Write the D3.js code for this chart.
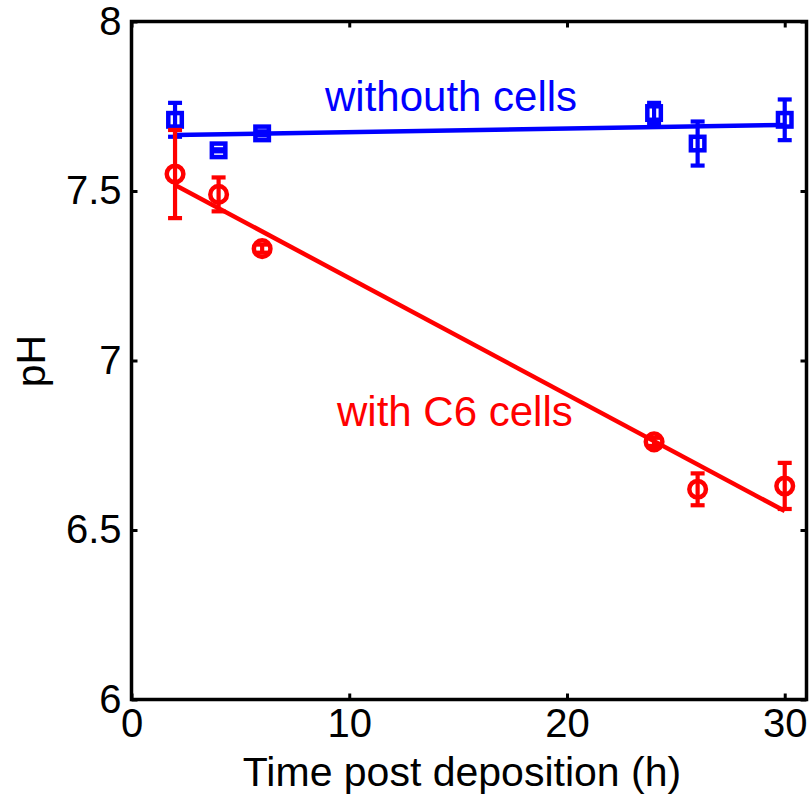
<!DOCTYPE html>
<html>
<head>
<meta charset="utf-8">
<script src="https://cdn.jsdelivr.net/npm/d3@7"></script>
<style>
  html, body { margin: 0; padding: 0; background: #fff; }
  svg text { font-family: "Liberation Sans", Arial, Helvetica, sans-serif; }
</style>
</head>
<body>
<svg id="chart" width="812" height="799"></svg>
<script>
// Sampling times (hours after deposition)
const hours = [2, 4, 6, 24, 26, 30];

// pH without cells: means and error half-widths
const phNoCells = [7.71, 7.62, 7.67, 7.73, 7.64, 7.71];
const errNoCells = [0.05, 0.003, 0.006, 0.03, 0.065, 0.06];

// pH with C6 cells: means and error half-widths
const phC6 = [7.55, 7.49, 7.33, 6.76, 6.62, 6.63];
const errC6 = [0.13, 0.05, 0.012, 0.012, 0.047, 0.068];

// Linear fits (end points at first and last sampling time)
const fitHours = [2, 30];
const fitNoCells = [7.665, 7.695];
const fitC6 = [7.518, 6.556];

// Axis ticks
const xTicks = [0, 10, 20, 30];
const yTicks = [6, 6.5, 7, 7.5, 8];

const svg = d3.select("#chart");
const plotL = 131.5, plotR = 806.5, plotT = 21.5, plotB = 699.5;

const x = d3.scaleLinear().domain([0, 31]).range([plotL, plotR]);
const y = d3.scaleLinear().domain([6, 8]).range([plotB, plotT]);

const fmtY = d => (d % 1 === 0 ? d3.format("d")(d) : d3.format(".1f")(d));

// Axes with inward ticks on all four sides
const axisStyle = g => {
  g.select(".domain").remove();
  g.selectAll(".tick line").attr("stroke", "#000").attr("stroke-width", 3);
  g.selectAll(".tick text").attr("fill", "#000").style("font-size", "40px");
};

svg.append("g").attr("transform", `translate(${plotL},0)`)
  .call(d3.axisLeft(y).tickValues(yTicks).tickSize(-6).tickPadding(10).tickFormat(fmtY))
  .call(axisStyle);
svg.append("g").attr("transform", `translate(${plotR},0)`)
  .call(d3.axisRight(y).tickValues(yTicks).tickSize(-6).tickFormat(""))
  .call(axisStyle);
svg.append("g").attr("transform", `translate(0,${plotB})`)
  .call(d3.axisBottom(x).tickValues(xTicks).tickSize(-6).tickPadding(9).tickFormat(d3.format("d")))
  .call(axisStyle);
svg.append("g").attr("transform", `translate(0,${plotT})`)
  .call(d3.axisTop(x).tickValues(xTicks).tickSize(-6).tickFormat(""))
  .call(axisStyle);

// Plot box
svg.append("rect")
  .attr("x", plotL).attr("y", plotT)
  .attr("width", plotR - plotL).attr("height", plotB - plotT)
  .attr("fill", "none").attr("stroke", "#000").attr("stroke-width", 3.5);

// Axis titles
svg.append("text")
  .attr("x", (plotL + plotR) / 2 - 7).attr("y", 786)
  .attr("text-anchor", "middle")
  .style("font-size", "41px")
  .text("Time post deposition (h)");
svg.append("text")
  .attr("transform", "translate(45,361) rotate(-90)")
  .attr("text-anchor", "middle")
  .style("font-size", "41px")
  .text("pH");

const line = d3.line().x(d => x(d[0])).y(d => y(d[1]));

function drawSeries(color, values, errs, fit, shape) {
  const g = svg.append("g");
  // fit line
  g.append("path")
    .datum(fitHours.map((h, i) => [h, fit[i]]))
    .attr("d", line)
    .attr("fill", "none").attr("stroke", color).attr("stroke-width", 4.5);

  const pts = hours.map((h, i) => ({ h, v: values[i], e: errs[i] }));
  const capW = 7;
  // error bars
  const eb = g.selectAll(".eb").data(pts).enter().append("g")
    .attr("stroke", color).attr("stroke-width", 4.2).attr("fill", "none");
  eb.append("line")
    .attr("x1", d => x(d.h)).attr("x2", d => x(d.h))
    .attr("y1", d => y(d.v - d.e)).attr("y2", d => y(d.v + d.e));
  eb.append("line")
    .attr("x1", d => x(d.h) - capW).attr("x2", d => x(d.h) + capW)
    .attr("y1", d => y(d.v + d.e)).attr("y2", d => y(d.v + d.e));
  eb.append("line")
    .attr("x1", d => x(d.h) - capW).attr("x2", d => x(d.h) + capW)
    .attr("y1", d => y(d.v - d.e)).attr("y2", d => y(d.v - d.e));

  // markers
  if (shape === "square") {
    g.selectAll(".mk").data(pts).enter().append("rect")
      .attr("x", d => x(d.h) - 6.75).attr("y", d => y(d.v) - 6.75)
      .attr("width", 13.5).attr("height", 13.5)
      .attr("fill", "none").attr("stroke", color).attr("stroke-width", 4.5);
  } else {
    g.selectAll(".mk").data(pts).enter().append("circle")
      .attr("cx", d => x(d.h)).attr("cy", d => y(d.v)).attr("r", 8.3)
      .attr("fill", "none").attr("stroke", color).attr("stroke-width", 4.5);
  }
}

drawSeries("#0000ff", phNoCells, errNoCells, fitNoCells, "square");
drawSeries("#ff0000", phC6, errC6, fitC6, "circle");

// Series labels
svg.append("text")
  .attr("x", 325).attr("y", 111)
  .attr("fill", "#0000ff").style("font-size", "42px")
  .text("withouth cells");
svg.append("text")
  .attr("x", 337).attr("y", 426)
  .attr("fill", "#ff0000").style("font-size", "42px")
  .text("with C6 cells");
</script>
</body>
</html>
